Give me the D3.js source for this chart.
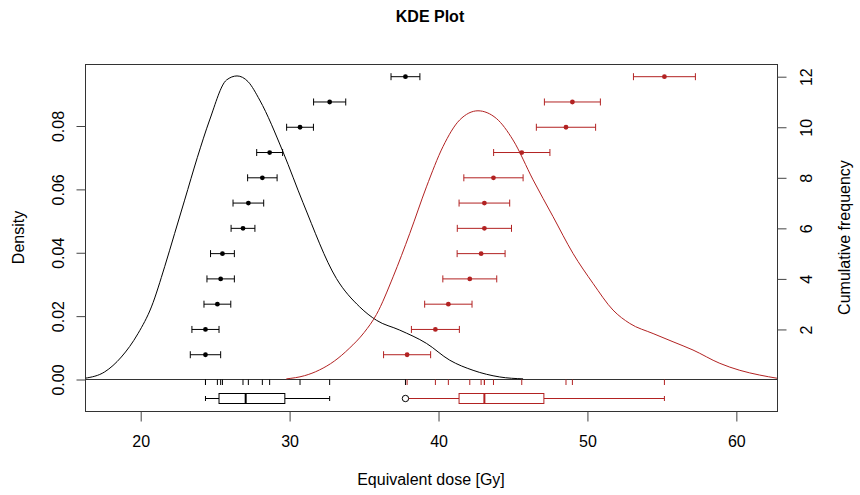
<!DOCTYPE html>
<html>
<head>
<meta charset="utf-8">
<title>KDE Plot</title>
<script src="https://cdn.jsdelivr.net/npm/d3@7"></script>
<style>
  body { margin: 0; background: #fff; }
  text { font-family: "Liberation Sans", Arial, sans-serif; fill: #000; }
</style>
</head>
<body>
<script>
// equivalent doses (sorted) and their standard errors, two data sets
var deBlack  = [24.35, 24.35, 25.15, 25.37, 25.49, 26.87, 27.23, 28.17, 28.66, 30.70, 32.69, 37.78];
var errBlack = [1.02, 0.91, 0.90, 0.92, 0.80, 0.80, 1.03, 0.99, 0.87, 0.90, 1.08, 0.97];
var deRed    = [37.89, 39.79, 40.66, 42.10, 42.86, 43.08, 43.08, 43.69, 45.59, 48.56, 48.99, 55.17];
var errRed   = [1.58, 1.61, 1.59, 1.81, 1.61, 1.82, 1.70, 1.99, 1.89, 1.99, 1.88, 2.08];

// KDE curves: dose and density
var kdeBlackX = [16.26, 17.58, 18.70, 19.82, 20.72, 21.61, 22.28, 22.95, 23.80, 24.63, 25.76, 26.47, 27.21, 27.99,
                 29.56, 30.90, 33.14, 34.71, 35.83, 37.39, 39.19, 40.75, 42.32, 44.11, 45.68];
var kdeBlackY = [0.0004, 0.0024, 0.0071, 0.0145, 0.0229, 0.0356, 0.0461, 0.0566, 0.0700, 0.0819, 0.0945, 0.0958, 0.0940, 0.0882,
                 0.0718, 0.0558, 0.0319, 0.0229, 0.0187, 0.0156, 0.0114, 0.0061, 0.0029, 0.0008, 0.0002];
var kdeRedX = [29.78, 31.00, 32.00, 33.00, 34.00, 35.00, 35.83, 36.95, 38.07, 39.19, 40.30, 41.42, 42.65, 43.88, 45.00,
               46.35, 47.69, 49.03, 50.38, 51.72, 52.84, 54.41, 55.75, 57.09, 58.89, 60.23, 61.57, 62.73];
var kdeRedY = [0.0002, 0.0012, 0.0030, 0.0058, 0.0098, 0.0148, 0.0205, 0.0324, 0.0461, 0.0608, 0.0735, 0.0819, 0.0848, 0.0824, 0.0756,
               0.0630, 0.0514, 0.0398, 0.0303, 0.0219, 0.0177, 0.0145, 0.0119, 0.0093, 0.0051, 0.0029, 0.0014, 0.0004];

// axis ticks
var xTicks = [20, 30, 40, 50, 60];
var densTicks = [0, 0.02, 0.04, 0.06, 0.08];
var cumTicks = [2, 4, 6, 8, 10, 12];

var w = 860, h = 495;
// plot region (note: "top" is a reserved window property, so use other names)
var pLeft = 85, pRight = 777, pTop = 64, pBottom = 411;
var zeroY = 379.5;
var red = "#b22222";

var svg = d3.select("body").append("svg")
  .attr("width", w)
  .attr("height", h);

// scales
var x = d3.scaleLinear().domain([16.26, 62.73]).range([pLeft, pRight]);
var yDens = d3.scaleLinear().domain([0, 0.08]).range([zeroY, 126]);
var yCum = d3.scaleLinear().domain([0, 12]).range([zeroY + 0.5, 76.7]);

svg.append("clipPath").attr("id", "plotclip")
  .append("rect")
  .attr("x", pLeft).attr("y", pTop)
  .attr("width", pRight - pLeft).attr("height", pBottom - pTop);

var plot = svg.append("g").attr("clip-path", "url(#plotclip)");

// zero density line
plot.append("line")
  .attr("x1", pLeft).attr("x2", pRight)
  .attr("y1", zeroY).attr("y2", zeroY)
  .attr("stroke", "#333").attr("stroke-width", 1);

// density curves
var line = d3.line()
  .x(function(d) { return x(d[0]); })
  .y(function(d) { return yDens(d[1]); })
  .curve(d3.curveMonotoneX);

function drawKde(xs, ys, colour) {
  plot.append("path")
    .datum(d3.zip(xs, ys))
    .attr("d", line)
    .attr("fill", "none")
    .attr("stroke", colour)
    .attr("stroke-width", 1);
}
drawKde(kdeBlackX, kdeBlackY, "#000");
drawKde(kdeRedX, kdeRedY, red);

// points with error bars, placed at their cumulative rank
function drawPoints(de, err, colour) {
  var g = plot.append("g");
  var rows = g.selectAll("g").data(de).enter().append("g")
    .attr("transform", function(d, i) { return "translate(0," + yCum(i + 1) + ")"; });
  rows.append("line")
    .attr("x1", function(d, i) { return x(d - err[i]); })
    .attr("x2", function(d, i) { return x(d + err[i]); })
    .attr("stroke", colour);
  rows.append("line")
    .attr("x1", function(d, i) { return x(d - err[i]); })
    .attr("x2", function(d, i) { return x(d - err[i]); })
    .attr("y1", -3.5).attr("y2", 3.5)
    .attr("stroke", colour);
  rows.append("line")
    .attr("x1", function(d, i) { return x(d + err[i]); })
    .attr("x2", function(d, i) { return x(d + err[i]); })
    .attr("y1", -3.5).attr("y2", 3.5)
    .attr("stroke", colour);
  rows.append("circle")
    .attr("cx", function(d) { return x(d); })
    .attr("r", 2.4)
    .attr("fill", colour);
}
drawPoints(deBlack, errBlack, "#000");
drawPoints(deRed, errRed, red);

// rug marks under the zero line
function drawRug(de, colour) {
  plot.append("g").selectAll("line").data(de).enter().append("line")
    .attr("x1", function(d) { return x(d); })
    .attr("x2", function(d) { return x(d); })
    .attr("y1", zeroY).attr("y2", zeroY + 5.5)
    .attr("stroke", colour);
}
drawRug(deBlack, "#000");
drawRug(deRed, red);

// horizontal boxplots (Tukey hinges, 1.5 IQR whiskers)
function drawBox(de, colour) {
  var s = de.slice().sort(d3.ascending);
  var n = s.length;
  var n4 = Math.floor((n + 3) / 2) / 2;
  var lo = (s[Math.floor(n4) - 1] + s[Math.ceil(n4) - 1]) / 2;
  var hi = (s[Math.floor(n + 1 - n4) - 1] + s[Math.ceil(n + 1 - n4) - 1]) / 2;
  var med = d3.median(s);
  var iqr = hi - lo;
  var wLo = d3.min(s.filter(function(v) { return v >= lo - 1.5 * iqr; }));
  var wHi = d3.max(s.filter(function(v) { return v <= hi + 1.5 * iqr; }));
  var outs = s.filter(function(v) { return v < wLo || v > wHi; });
  var cy = 398.5, bh = 5, sh = 2.5;
  var g = plot.append("g").attr("stroke", colour).attr("fill", "none");
  g.append("line").attr("x1", x(wLo)).attr("x2", x(lo)).attr("y1", cy).attr("y2", cy);
  g.append("line").attr("x1", x(hi)).attr("x2", x(wHi)).attr("y1", cy).attr("y2", cy);
  g.append("line").attr("x1", x(wLo)).attr("x2", x(wLo)).attr("y1", cy - sh).attr("y2", cy + sh);
  g.append("line").attr("x1", x(wHi)).attr("x2", x(wHi)).attr("y1", cy - sh).attr("y2", cy + sh);
  g.append("rect")
    .attr("x", x(lo)).attr("y", cy - bh)
    .attr("width", x(hi) - x(lo)).attr("height", 2 * bh)
    .attr("fill", "#fff");
  g.append("line").attr("x1", x(med)).attr("x2", x(med))
    .attr("y1", cy - bh).attr("y2", cy + bh).attr("stroke-width", 2);
  g.selectAll("circle").data(outs).enter().append("circle")
    .attr("cx", function(d) { return x(d); }).attr("cy", cy).attr("r", 3.2)
    .attr("fill", "#fff");
}
drawBox(deRed, red);
drawBox(deBlack, "#000");

// frame
svg.append("rect")
  .attr("x", pLeft + 0.5).attr("y", pTop + 0.5)
  .attr("width", pRight - pLeft).attr("height", pBottom - pTop)
  .attr("fill", "none").attr("stroke", "#333");

// bottom axis
var xAxis = svg.append("g")
  .attr("transform", "translate(0," + (pBottom + 0.5) + ")")
  .call(d3.axisBottom(x).tickValues(xTicks).tickSize(10).tickPadding(14).tickFormat(d3.format("d")));
xAxis.select(".domain").remove();
xAxis.selectAll("line").attr("stroke", "#444");
xAxis.selectAll("text").style("font-size", "16px").attr("fill", "#000");

// left density axis, labels parallel to the axis
var yAxis = svg.append("g")
  .attr("transform", "translate(" + (pLeft + 0.5) + ",0)")
  .call(d3.axisLeft(yDens).tickValues(densTicks).tickSize(9).tickFormat(d3.format(".2f")));
yAxis.select(".domain").remove();
yAxis.selectAll("line").attr("stroke", "#444");
yAxis.selectAll("text")
  .attr("x", null).attr("dy", null)
  .attr("transform", "translate(-22,0) rotate(-90)")
  .attr("text-anchor", "middle")
  .style("font-size", "16px").attr("fill", "#000");

// right cumulative frequency axis
var rAxis = svg.append("g")
  .attr("transform", "translate(" + (pRight + 0.5) + ",0)")
  .call(d3.axisRight(yCum).tickValues(cumTicks).tickSize(9).tickFormat(d3.format("d")));
rAxis.select(".domain").remove();
rAxis.selectAll("line").attr("stroke", "#444");
rAxis.selectAll("text")
  .attr("x", null).attr("dy", null)
  .attr("transform", "translate(34,0) rotate(-90)")
  .attr("text-anchor", "middle")
  .style("font-size", "16px").attr("fill", "#000");

// title and axis labels
svg.append("text")
  .attr("x", 430).attr("y", 22)
  .attr("text-anchor", "middle")
  .style("font-size", "16px").style("font-weight", "bold")
  .text("KDE Plot");

svg.append("text")
  .attr("x", (pLeft + pRight) / 2).attr("y", 485)
  .attr("text-anchor", "middle")
  .style("font-size", "16px")
  .text("Equivalent dose [Gy]");

svg.append("text")
  .attr("transform", "translate(24," + (pTop + pBottom) / 2 + ") rotate(-90)")
  .attr("text-anchor", "middle")
  .style("font-size", "16px")
  .text("Density");

svg.append("text")
  .attr("transform", "translate(850," + (pTop + pBottom) / 2 + ") rotate(-90)")
  .attr("text-anchor", "middle")
  .style("font-size", "16px")
  .text("Cumulative frequency");
</script>
</body>
</html>
